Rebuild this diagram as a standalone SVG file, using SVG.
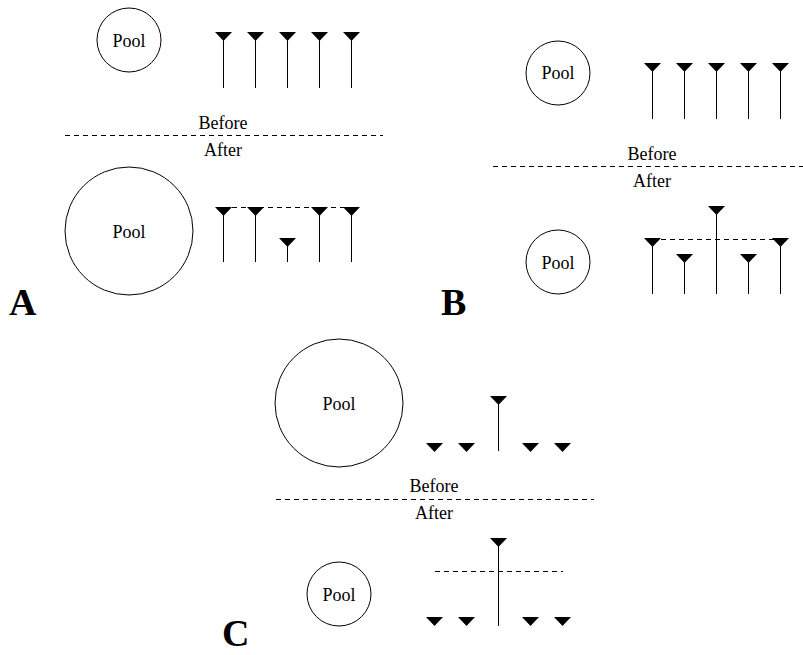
<svg xmlns="http://www.w3.org/2000/svg" xmlns:xlink="http://www.w3.org/1999/xlink" width="803" height="655" viewBox="0 0 803 655">
<style>
.pool{fill:none;stroke:#000;stroke-width:1}
.stem{stroke:#000;stroke-width:1}
.dash{stroke:#000;stroke-width:1;stroke-dasharray:5 4;fill:none}
.t{font-family:"Liberation Serif","DejaVu Serif",serif;font-size:18px;fill:#000;text-anchor:middle}
.lab{font-family:"Liberation Serif","DejaVu Serif",serif;font-size:38px;font-weight:bold;fill:#000}
</style>
<defs>
<path id="tri" d="M-8.5,0 L8.5,0 L0,9 Z" fill="#000"/>
</defs>
<rect width="803" height="655" fill="#fff"/>

<!-- Panel A -->
<g id="A-before">
  <g id="A-pool-before"><circle class="pool" cx="129" cy="40" r="32"/><text class="t" x="129" y="47">Pool</text></g>
  <g id="A-sticks-before">
    <use href="#tri" x="223.5" y="32"/><line class="stem" x1="223.5" y1="39" x2="223.5" y2="88"/>
    <use href="#tri" x="255.5" y="32"/><line class="stem" x1="255.5" y1="39" x2="255.5" y2="88"/>
    <use href="#tri" x="287.5" y="32"/><line class="stem" x1="287.5" y1="39" x2="287.5" y2="88"/>
    <use href="#tri" x="319.5" y="32"/><line class="stem" x1="319.5" y1="39" x2="319.5" y2="88"/>
    <use href="#tri" x="351.5" y="32"/><line class="stem" x1="351.5" y1="39" x2="351.5" y2="88"/>
  </g>
</g>
<g id="A-divider">
  <line class="dash" x1="65" y1="135.5" x2="383" y2="135.5"/>
  <text class="t" x="223" y="129">Before</text>
  <text class="t" x="223" y="156">After</text>
</g>
<g id="A-after">
  <g id="A-pool-after"><circle class="pool" cx="129" cy="231" r="64"/><text class="t" x="129" y="238">Pool</text></g>
  <g id="A-sticks-after">
    <use href="#tri" x="223.5" y="207"/><line class="stem" x1="223.5" y1="214" x2="223.5" y2="262"/>
    <use href="#tri" x="255.5" y="207"/><line class="stem" x1="255.5" y1="214" x2="255.5" y2="262"/>
    <use href="#tri" x="287.5" y="238"/><line class="stem" x1="287.5" y1="245" x2="287.5" y2="262"/>
    <use href="#tri" x="319.5" y="207"/><line class="stem" x1="319.5" y1="214" x2="319.5" y2="262"/>
    <use href="#tri" x="351.5" y="207"/><line class="stem" x1="351.5" y1="214" x2="351.5" y2="262"/>
  </g>
</g>
<text id="label-A" class="lab" x="9" y="315">A</text>

<!-- Panel B -->
<g id="B-before">
  <g id="B-pool-before"><circle class="pool" cx="558" cy="73" r="32"/><text class="t" x="558" y="79">Pool</text></g>
  <g id="B-sticks-before">
    <use href="#tri" x="652.5" y="63"/><line class="stem" x1="652.5" y1="70" x2="652.5" y2="119"/>
    <use href="#tri" x="684.5" y="63"/><line class="stem" x1="684.5" y1="70" x2="684.5" y2="119"/>
    <use href="#tri" x="716.5" y="63"/><line class="stem" x1="716.5" y1="70" x2="716.5" y2="119"/>
    <use href="#tri" x="748.5" y="63"/><line class="stem" x1="748.5" y1="70" x2="748.5" y2="119"/>
    <use href="#tri" x="780.5" y="63"/><line class="stem" x1="780.5" y1="70" x2="780.5" y2="119"/>
  </g>
</g>
<g id="B-divider">
  <line class="dash" x1="493" y1="166.5" x2="811" y2="166.5"/>
  <text class="t" x="652" y="160">Before</text>
  <text class="t" x="652" y="187">After</text>
</g>
<g id="B-after">
  <g id="B-pool-after"><circle class="pool" cx="558" cy="262" r="32"/><text class="t" x="558" y="269">Pool</text></g>
  <g id="B-sticks-after">
    <use href="#tri" x="652.5" y="238"/><line class="stem" x1="652.5" y1="245" x2="652.5" y2="294"/>
    <use href="#tri" x="684.5" y="254"/><line class="stem" x1="684.5" y1="261" x2="684.5" y2="294"/>
    <use href="#tri" x="716.5" y="206"/><line class="stem" x1="716.5" y1="213" x2="716.5" y2="294"/>
    <use href="#tri" x="748.5" y="254"/><line class="stem" x1="748.5" y1="261" x2="748.5" y2="294"/>
    <use href="#tri" x="780.5" y="238"/><line class="stem" x1="780.5" y1="245" x2="780.5" y2="294"/>
  </g>
</g>
<text id="label-B" class="lab" x="441" y="315">B</text>

<!-- Panel C -->
<g id="C-before">
  <g id="C-pool-before"><circle class="pool" cx="339" cy="403" r="64"/><text class="t" x="339" y="410">Pool</text></g>
  <g id="C-sticks-before">
    <use href="#tri" x="434.5" y="443"/>
    <use href="#tri" x="466.5" y="443"/>
    <use href="#tri" x="498.5" y="396"/><line class="stem" x1="498.5" y1="403" x2="498.5" y2="451"/>
    <use href="#tri" x="530.5" y="443"/>
    <use href="#tri" x="562.5" y="443"/>
  </g>
</g>
<g id="C-divider">
  <line class="dash" x1="276" y1="499.5" x2="594" y2="499.5"/>
  <text class="t" x="434" y="492">Before</text>
  <text class="t" x="434" y="519">After</text>
</g>
<g id="C-after">
  <g id="C-pool-after"><circle class="pool" cx="339" cy="594" r="32"/><text class="t" x="339" y="601">Pool</text></g>
  <g id="C-sticks-after">
    <use href="#tri" x="434.5" y="617"/>
    <use href="#tri" x="466.5" y="617"/>
    <use href="#tri" x="498.5" y="538"/><line class="stem" x1="498.5" y1="545" x2="498.5" y2="626"/>
    <use href="#tri" x="530.5" y="617"/>
    <use href="#tri" x="562.5" y="617"/>
  </g>
</g>
<text id="label-C" class="lab" x="222" y="646">C</text>

<g id="connectors">
  <line class="dash" x1="223" y1="207.5" x2="351" y2="207.5"/>
  <line class="dash" x1="652" y1="239.5" x2="780" y2="239.5"/>
  <line class="dash" x1="435" y1="571.5" x2="563" y2="571.5"/>
</g>
</svg>
